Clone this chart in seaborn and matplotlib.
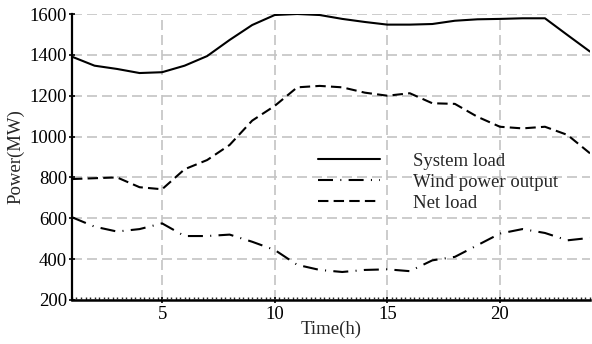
import matplotlib
matplotlib.use("Agg")
import matplotlib.pyplot as plt
from matplotlib.ticker import MultipleLocator
import seaborn as sns
import pandas as pd

hours = list(range(1, 25))
system_load = [1391, 1347, 1331, 1311, 1315, 1347, 1394, 1473, 1546, 1595, 1600, 1595,
               1576, 1561, 1548, 1548, 1551, 1567, 1574, 1576, 1579, 1579, 1497, 1416]
wind_power = [605, 559, 535, 547, 575, 513, 513, 520, 485, 445, 372, 347,
              337, 347, 350, 341, 394, 411, 468, 525, 547, 528, 492, 504]
net_load = [792, 796, 800, 752, 742, 840, 885, 959, 1078, 1150, 1241, 1248,
            1241, 1215, 1200, 1212, 1163, 1160, 1097, 1048, 1040, 1048, 1008, 918]
labels = ["System load", "Wind power output", "Net load"]

sns.set_style("white")
plt.rcParams['font.family'] = ['Liberation Serif', 'DejaVu Serif']
plt.rcParams['mathtext.fontset'] = 'stix'

fig = plt.figure(figsize=(5.92, 3.44), dpi=100)
ax = fig.add_axes([0.1216, 0.128, 0.8750, 0.8313])

styles = [dict(linestyle='-'),
          dict(dashes=(7.2, 3.5, 0.5, 3.5)),
          dict(dashes=(5, 2.5))]
for lab, vals, st in zip(labels, [system_load, wind_power, net_load], styles):
    df = pd.DataFrame({"Time": hours, "Power": vals})
    sns.lineplot(data=df, x="Time", y="Power", ax=ax, color='black', linewidth=1.5,
                 label=lab, **st)

ax.set_xlim(1, 24)
ax.set_ylim(200, 1600)
ax.set_xticks([5, 10, 15, 20])
ax.set_yticks(range(200, 1601, 200))
ax.xaxis.set_minor_locator(MultipleLocator(0.2))
ax.grid(True, which='major', color='#c4c4c4', linestyle=(0, (6, 3)), linewidth=1.2)
ax.set_axisbelow(True)

for s in ['top', 'right']:
    ax.spines[s].set_visible(False)
ax.spines['left'].set_linewidth(1.6)
ax.spines['bottom'].set_linewidth(1.8)
ax.spines['left'].set_color('black')
ax.spines['bottom'].set_color('black')

ax.tick_params(axis='both', which='major', direction='inout', length=5, width=1.2,
               labelsize=13.5, colors='black', pad=1)
ax.tick_params(axis='x', which='minor', direction='in', length=2.5, width=1.0, bottom=True)
ax.tick_params(axis='x', which='major', bottom=True, pad=2)
ax.tick_params(axis='y', which='major', left=True)

ax.set_xlabel("Time(h)", fontsize=13.5, labelpad=-2)
ax.set_ylabel("Power(MW)", fontsize=13.5, labelpad=4)

leg = ax.legend(loc='upper left', bbox_to_anchor=(0.475, 0.515), frameon=False,
                fontsize=13.5, handlelength=3.3, handletextpad=1.76,
                labelspacing=0.2, borderpad=0, borderaxespad=0)

fig.savefig("out.png", dpi=100)
